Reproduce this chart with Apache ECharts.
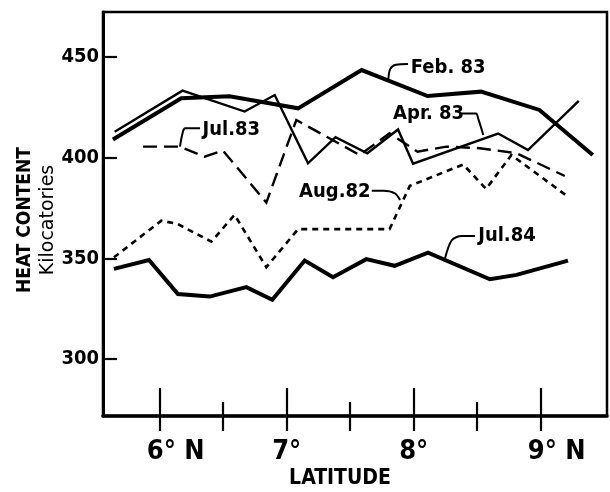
<!DOCTYPE html>
<html>
<head>
<meta charset="utf-8">
<script src="https://cdn.jsdelivr.net/npm/echarts@6/dist/echarts.min.js"></script>
<style>
html,body{margin:0;padding:0;background:#fff;}
#c{width:610px;height:492px;}
</style>
</head>
<body>
<div id="c"></div>
<script>
// ---- data (latitude in degrees N, heat content in kilocalories) ----
const febLat = [5.632, 6.17, 6.55, 7.09, 7.59, 8.11, 8.53, 8.99, 9.41];
const febVal = [409, 429.5, 430.5, 424.5, 443.5, 430.6, 432.8, 423.7, 401.3];

const aprLat = [5.646, 6.18, 6.669, 6.906, 7.168, 7.385, 7.635, 7.877, 7.995, 8.665, 8.9, 9.30];
const aprVal = [412.9, 433.3, 422.9, 431.1, 397.2, 410.2, 402.2, 414, 397, 412, 403.8, 428.2];

const jul83Lat = [5.869, 6.157, 6.354, 6.499, 6.84, 7.076, 7.575, 7.81, 8.03, 8.257, 8.52, 8.81, 9.19];
const jul83Val = [405.5, 405.5, 400.5, 403.5, 377.7, 418.7, 401.3, 412.1, 403, 405.5, 404.7, 402.2, 390.9];

const aug82Lat = [5.64, 6.013, 6.14, 6.407, 6.59, 6.84, 7.09, 7.81, 7.97, 8.39, 8.57, 8.77, 9.215];
const aug82Val = [350.5, 368.7, 367.1, 358.3, 371.6, 345.6, 364.5, 364.5, 386, 396.6, 384.5, 401.3, 380.6];

const jul84Lat = [5.64, 5.916, 6.144, 6.394, 6.683, 6.887, 7.142, 7.365, 7.627, 7.85, 8.113, 8.6, 8.81, 9.215];
const jul84Val = [344.8, 349.2, 332.3, 331, 335.7, 329.4, 348.9, 340.6, 349.6, 346.3, 352.8, 339.6, 341.8, 348.9];

// tick labels
const yTicks = [300, 350, 400, 450];
const xMajor = [6, 7, 8, 9];
const xMinor = [6.5, 7.5, 8.5];
const xTickLabels = {6: '6° N', 7: '7°', 8: '8°', 9: '9° N'};

// annotation labels (anchor = left middle of text, in data units) and leader lines
const annNames = ['Feb. 83', 'Apr. 83', 'Jul.83', 'Aug.82', 'Jul.84'];
const annLat = [7.97, 7.83, 6.33, 7.09, 8.50];
const annVal = [444.4, 421.7, 413.7, 382.9, 361.1];
const leadFebLat = [7.80, 7.815, 7.86, 7.955];
const leadFebVal = [438.6, 444.0, 446.2, 446.5];
const leadAprLat = [8.378, 8.49, 8.51, 8.548];
const leadAprVal = [422.0, 422.0, 419.0, 411.3];
const leadJul83Lat = [6.318, 6.20, 6.18, 6.16];
const leadJul83Val = [414.6, 414.6, 412.0, 405.5];
const leadAug82Lat = [7.67, 7.761, 7.852, 7.893];
const leadAug82Val = [383.6, 383.6, 382.3, 379.0];
const leadJul84Lat = [8.483, 8.378, 8.30, 8.247];
const leadJul84Val = [361.1, 361.1, 359.0, 350.0];

const pairs = (a, b) => a.map((x, i) => [x, b[i]]);
const FONT = '"DejaVu Sans Condensed", "DejaVu Sans", sans-serif';
const XMIN = 5.554, XMAX = 9.522, YMIN = 271.7, YMAX = 472.35;

function lineSeries(name, lat, val, width, type) {
  return {
    name: name, type: 'line', data: pairs(lat, val), symbol: 'none', silent: true,
    lineStyle: {color: '#000', width: width, type: type, cap: 'butt', join: 'miter', opacity: 1},
    z: 3
  };
}
function leader(lat, val) {
  return {
    type: 'line', data: pairs(lat, val), symbol: 'none', silent: true, smooth: 0.3,
    lineStyle: {color: '#000', width: 2, opacity: 1}, z: 4
  };
}

const chart = echarts.init(document.getElementById('c'), null, {renderer: 'canvas'});
chart.setOption({
  animation: false,
  backgroundColor: '#fff',
  grid: {left: 103, right: 3, top: 12, bottom: 76, show: true, borderColor: '#000', borderWidth: 2.5, backgroundColor: 'transparent'},
  xAxis: [
    {
      type: 'value', min: XMIN, max: XMAX, position: 'bottom',
      axisLine: {show: true, lineStyle: {color: '#000', width: 3.5}},
      axisTick: {show: true, inside: true, length: 28, customValues: xMajor, lineStyle: {color: '#000', width: 2.2}},
      axisLabel: {
        show: true, customValues: xMajor, margin: 22, color: '#000',
        fontFamily: FONT, fontSize: 27, fontWeight: 'bold',
        formatter: function (v) {
          const t = xTickLabels[Math.round(v)] || '';
          if (t.indexOf('N') >= 0) {
            return '{p| }{a|' + t.replace(' N', '') + '}{b| N}';
          }
          return '{a|' + t + '}';
        },
        rich: {
          p: {width: 32, fontSize: 27, fontFamily: FONT},
          a: {fontSize: 27, fontFamily: FONT, fontWeight: 'bold', color: '#000'},
          b: {fontSize: 27, fontFamily: FONT, fontWeight: 'bold', color: '#000'}
        }
      },
      splitLine: {show: false}
    },
    {
      type: 'value', min: XMIN, max: XMAX, position: 'bottom',
      axisLine: {show: false},
      axisTick: {show: true, inside: false, length: 15, customValues: xMajor.concat(xMinor), lineStyle: {color: '#000', width: 2.2}},
      axisLabel: {show: false}, splitLine: {show: false}
    },
    {
      type: 'value', min: XMIN, max: XMAX, position: 'bottom',
      axisLine: {show: false},
      axisTick: {show: true, inside: true, length: 14, customValues: xMinor, lineStyle: {color: '#000', width: 2.2}},
      axisLabel: {show: false}, splitLine: {show: false}
    }
  ],
  yAxis: [
    {
      type: 'value', min: YMIN, max: YMAX, position: 'left',
      axisLine: {show: true, lineStyle: {color: '#000', width: 3}},
      axisTick: {show: true, inside: true, length: 14, customValues: yTicks, lineStyle: {color: '#000', width: 2.2}},
      axisLabel: {show: true, customValues: yTicks, margin: 4, color: '#000', fontFamily: FONT, fontSize: 20, fontWeight: 'bold', padding: [4, 0, 0, 0]},
      splitLine: {show: false}
    }
  ],
  series: [
    lineSeries('Feb. 83', febLat, febVal, 4, 'solid'),
    lineSeries('Apr. 83', aprLat, aprVal, 2.4, 'solid'),
    lineSeries('Jul. 83', jul83Lat, jul83Val, 2.4, [14, 7]),
    lineSeries('Aug. 82', aug82Lat, aug82Val, 2.6, [6, 5]),
    lineSeries('Jul. 84', jul84Lat, jul84Val, 4, 'solid'),
    leader(leadFebLat, leadFebVal),
    leader(leadAprLat, leadAprVal),
    leader(leadJul83Lat, leadJul83Val),
    leader(leadAug82Lat, leadAug82Val),
    leader(leadJul84Lat, leadJul84Val),
    {
      type: 'scatter', symbolSize: 0, silent: true, z: 5,
      itemStyle: {opacity: 1},
      data: annNames.map((n, i) => ({name: n, value: [annLat[i], annVal[i]]})),
      label: {
        show: true, position: 'right', distance: 1, formatter: '{b}', opacity: 1,
        color: '#000', fontFamily: FONT, fontSize: 20, fontWeight: 'bold'
      }
    }
  ],
  graphic: [
    {type: 'text', x: 25, y: 220, rotation: Math.PI / 2,
     style: {text: 'HEAT CONTENT', align: 'center', verticalAlign: 'middle', fill: '#000', font: 'bold 19px ' + FONT}},
    {type: 'text', x: 48, y: 220, rotation: Math.PI / 2,
     style: {text: 'Kilocatories', align: 'center', verticalAlign: 'middle', fill: '#000', font: '19px "DejaVu Sans", sans-serif'}},
    {type: 'text', x: 340, y: 479,
     style: {text: 'LATITUDE', align: 'center', verticalAlign: 'middle', fill: '#000', font: 'bold 21px ' + FONT}}
  ]
});
</script>
</body>
</html>
